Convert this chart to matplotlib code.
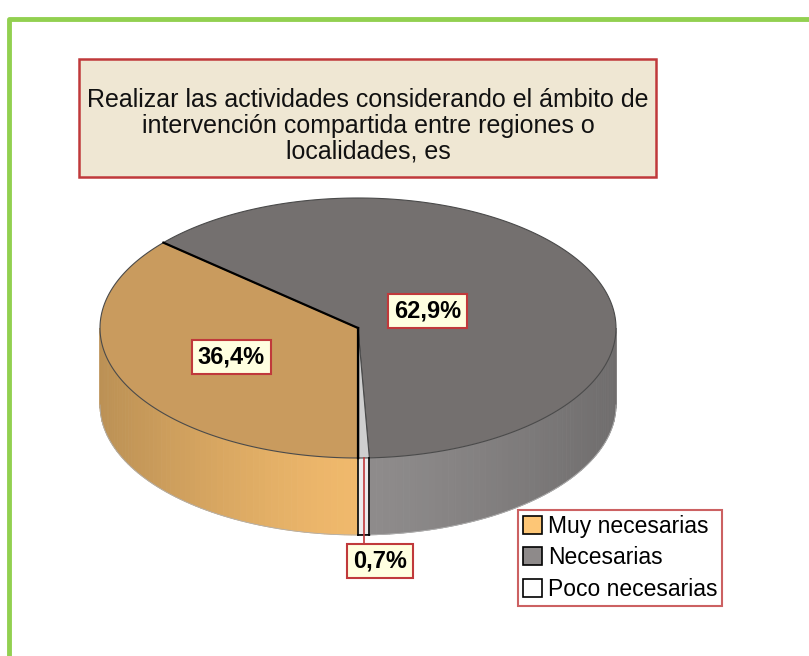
import numpy as np
import matplotlib
matplotlib.use('Agg')
import matplotlib.pyplot as plt
from matplotlib.patches import Polygon, Rectangle, Patch

plt.rcParams['font.family'] = ['Liberation Sans', 'DejaVu Sans']

# data
categories = ['Muy necesarias', 'Necesarias', 'Poco necesarias']
values = [36.4, 62.9, 0.7]
labels = ['36,4%', '62,9%', '0,7%']
title = 'Realizar las actividades considerando el ámbito de\nintervención compartida entre regiones o\nlocalidades, es'

# colours
top_cols = ['#c99b5e', '#74706f', '#cfcfcf']
side_cols = ['#f0b96c', '#8f8c8c', '#ececec']
legend_cols = ['#fdc676', '#8e8a8a', '#ffffff']

# geometry of the fake 3D pie (pixels)
cx, cy, rx, ry, depth = 358, 328, 258, 130, 77
start = 270.0

def pt(t, dz=0.0, f=1.0):
    r = np.radians(t)
    return cx + f * rx * np.cos(r), cy - f * ry * np.sin(r) + dz

def shade(col, k):
    c = np.array(matplotlib.colors.to_rgb(col))
    return tuple(np.clip(c * k, 0, 1))

fig = plt.figure(figsize=(8.09, 6.56), dpi=100)
ax = fig.add_axes([0, 0, 1, 1])
ax.set_xlim(0, 809)
ax.set_ylim(656, 0)
ax.axis('off')

# green frame
ax.plot([9, 9, 809], [656, 19, 19], color='#92d050', lw=3.5, solid_capstyle='butt')

# slice angles, clockwise from 6 o'clock
total = sum(values)
spans = []
a = start
for v in values:
    d = 360.0 * v / total
    spans.append((a - d, a))
    a -= d

# side walls (front half only)
for i, (a1, a2) in enumerate(spans):
    for k in (-1, 0, 1):
        lo = max(a1 + 360 * k, 180)
        hi = min(a2 + 360 * k, 360)
        if hi <= lo:
            continue
        ts = np.linspace(lo, hi, max(2, int((hi - lo) / 1.5) + 1))
        for t0, t1 in zip(ts[:-1], ts[1:]):
            tm = 0.5 * (t0 + t1)
            k_sh = 1 - 0.22 * abs(np.cos(np.radians(tm))) ** 1.3
            col = shade(side_cols[i], k_sh)
            poly = [pt(t0), pt(t1), pt(t1, depth), pt(t0, depth)]
            ax.add_patch(Polygon(poly, closed=True, fc=col, ec=col, lw=0.6))
        tt = np.linspace(lo, hi, 100)
        bx, by = zip(*[pt(t, depth) for t in tt])
        ax.plot(bx, by, color='#b0b0b0', lw=0.6)

# outline of the tiny slice side
a1, a2 = spans[2]
for t in (a1, a2):
    x0, y0 = pt(t)
    ax.plot([x0, x0], [y0, y0 + depth], color='black', lw=1.2)
x0, y0 = pt(a1, depth)
x1, y1 = pt(a2, depth)
ax.plot([x0, x1], [y0, y1], color='black', lw=1.2)

# top faces
for i, (a1, a2) in enumerate(spans):
    tt = np.linspace(a1, a2, 200)
    poly = [(cx, cy)] + [pt(t) for t in tt]
    ax.add_patch(Polygon(poly, closed=True, fc=top_cols[i], ec='#4a4a4a', lw=0.8))

# black slice borders
for t in (spans[0][0], spans[0][1]):
    x0, y0 = pt(t)
    ax.plot([cx, x0], [cy, y0], color='black', lw=1.6)
x0, y0 = pt(spans[2][0])
ax.plot([cx, x0], [cy, y0], color='black', lw=1.0)

# value labels
label_f = [0.54, 0.30]
for i in range(2):
    a1, a2 = spans[i]
    lx, ly = pt(0.5 * (a1 + a2), 0, label_f[i])
    ax.text(lx, ly, labels[i], ha='center', va='center', fontsize=17, fontweight='bold',
            bbox=dict(boxstyle='square,pad=0.25', fc='#ffffe0', ec='#c0393b', lw=1.5))

# small slice label with leader line
a1, a2 = spans[2]
mx, my = pt(0.5 * (a1 + a2))
ax.plot([mx, mx], [my, my + 88], color='#c0393b', lw=1.2)
ax.text(mx + 16, my + 103, labels[2], ha='center', va='center', fontsize=17, fontweight='bold',
        bbox=dict(boxstyle='square,pad=0.25', fc='#ffffe0', ec='#c0393b', lw=1.5))

# title box
ax.add_patch(Rectangle((79, 59), 577, 118, fc='#efe7d3', ec='#c0393b', lw=1.8))
ax.text(368, 126, title, ha='center', va='center', fontsize=18, linespacing=1.08, color='#111111')

# legend
handles = [Patch(fc=legend_cols[i], ec='black', lw=1.2) for i in range(3)]
leg = ax.legend(handles, categories, loc='upper left', bbox_to_anchor=(518 / 809, 1 - 510 / 656),
                fontsize=16.5, frameon=True, fancybox=False, handlelength=0.85, handleheight=0.85,
                handletextpad=0.25, borderpad=0.2, labelspacing=0.38, borderaxespad=0)
leg.get_frame().set_edgecolor('#c0393b')
leg.get_frame().set_linewidth(1.5)

fig.savefig('out.png', dpi=100)
